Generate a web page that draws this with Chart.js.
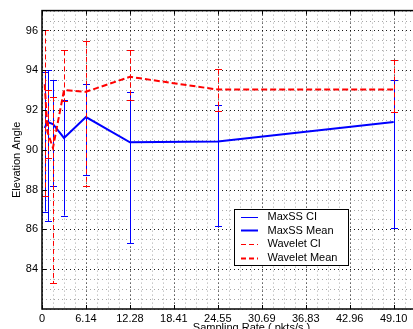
<!DOCTYPE html>
<html><head><meta charset="utf-8">
<script src="https://cdn.jsdelivr.net/npm/chart.js@4/dist/chart.umd.min.js"></script>
<style>
html,body{margin:0;padding:0;background:#fff;overflow:hidden;width:413px;height:329px;}
#wrap{position:absolute;left:0;top:0;width:470px;height:345px;}
canvas{display:block;}
</style></head><body>
<div id="wrap"><canvas id="c" width="470" height="345"></canvas></div>
<script>
// ---- data ----
const samplingRates = [0.38, 0.77, 1.53, 3.07, 6.14, 12.28, 24.55, 49.10];
const maxssMean  = [91.10, 91.40, 91.30, 90.60, 91.65, 90.38, 90.42, 91.40];
const maxssLow   = [86.90, 86.40, 88.20, 86.70, 88.75, 85.30, 86.15, 86.05];
const maxssHigh  = [93.90, 94.00, 93.50, 92.50, 93.30, 92.90, 92.26, 93.50];
const waveletMean = [93.30, 90.90, 90.10, 93.00, 92.92, 93.67, 93.03, 93.03];
const waveletLow  = [87.70, 89.60, 83.30, 92.45, 88.17, 92.53, 91.97, 91.90];
const waveletHigh = [96.00, 93.00, 92.66, 95.00, 95.48, 95.00, 94.04, 94.50];

const xTickValues = [0, 6.1375, 12.275, 18.4125, 24.55, 30.6875, 36.825, 42.9625, 49.10];
const xTickLabels = ['0', '6.14', '12.28', '18.41', '24.55', '30.69', '36.83', '42.96', '49.10'];
const yTickValues = [84, 86, 88, 90, 92, 94, 96];
const legendLabels = ['MaxSS CI', 'MaxSS Mean', 'Wavelet CI', 'Wavelet Mean'];

const FONT = '"Liberation Sans", Arial, Helvetica, sans-serif';
const BLUE = '#0000ff', RED = '#ff0000';

function drawCI(chart, ci) {
  const {ctx, chartArea: a, scales: {x, y}} = chart;
  ctx.save();
  ctx.beginPath(); ctx.rect(a.left, a.top, a.right - a.left, a.bottom - a.top); ctx.clip();
  ctx.strokeStyle = ci.color; ctx.lineWidth = 1;
  samplingRates.forEach((r, i) => {
    const px = Math.round(x.getPixelForValue(r)) + 0.5;
    const yl = y.getPixelForValue(ci.low[i]);
    const yh = y.getPixelForValue(ci.high[i]);
    ctx.setLineDash(ci.dash);
    ctx.beginPath(); ctx.moveTo(px, yh); ctx.lineTo(px, yl); ctx.stroke();
    ctx.setLineDash([]);
    [yl, yh].forEach(v => {
      const yy = Math.round(v) + 0.5;
      ctx.beginPath(); ctx.moveTo(px - 3.5, yy); ctx.lineTo(px + 3.5, yy); ctx.stroke();
    });
  });
  ctx.restore();
}

const matlabPlugin = {
  id: 'matlabAxes',
  beforeDraw(chart) {
    const {ctx, width, height} = chart;
    ctx.save(); ctx.fillStyle = '#fff'; ctx.fillRect(0, 0, width, height); ctx.restore();
  },
  beforeDatasetsDraw(chart) {
    const {ctx, chartArea: a, scales: {x, y}} = chart;
    ctx.save();
    ctx.lineWidth = 1;
    // minor grid
    ctx.strokeStyle = 'rgba(0,0,0,0.35)';
    ctx.setLineDash([1, 3]);
    for (let v = 0; v <= x.max + 1e-9; v += 6.1375 / 4) {
      const p = Math.round(x.getPixelForValue(v)) + 0.5;
      ctx.beginPath(); ctx.moveTo(p, a.top); ctx.lineTo(p, a.bottom); ctx.stroke();
    }
    for (let v = y.min; v <= y.max + 1e-9; v += 0.5) {
      const p = Math.round(y.getPixelForValue(v)) + 0.5;
      ctx.beginPath(); ctx.moveTo(a.left, p); ctx.lineTo(a.right, p); ctx.stroke();
    }
    // major grid
    ctx.strokeStyle = 'rgba(0,0,0,0.85)';
    xTickValues.forEach(v => {
      const p = Math.round(x.getPixelForValue(v)) + 0.5;
      ctx.beginPath(); ctx.moveTo(p, a.top); ctx.lineTo(p, a.bottom); ctx.stroke();
    });
    yTickValues.forEach(v => {
      const p = Math.round(y.getPixelForValue(v)) + 0.5;
      ctx.beginPath(); ctx.moveTo(a.left, p); ctx.lineTo(a.right, p); ctx.stroke();
    });
    ctx.restore();
  },
  beforeDatasetDraw(chart, args) {
    const ds = chart.data.datasets[args.index];
    if (ds.ci) drawCI(chart, ds.ci);
  },
  afterDatasetsDraw(chart) {
    const {ctx, chartArea: a, scales: {x, y}} = chart;
    ctx.save();
    ctx.setLineDash([]);
    ctx.strokeStyle = '#000';
    ctx.lineWidth = 1.5;
    ctx.strokeRect(a.left, a.top, a.right - a.left, a.bottom - a.top);
    ctx.lineWidth = 1;
    xTickValues.forEach(v => {
      const p = Math.round(x.getPixelForValue(v)) + 0.5;
      ctx.beginPath(); ctx.moveTo(p, a.bottom); ctx.lineTo(p, a.bottom - 4); ctx.stroke();
      ctx.beginPath(); ctx.moveTo(p, a.top); ctx.lineTo(p, a.top + 4); ctx.stroke();
    });
    yTickValues.forEach(v => {
      const p = Math.round(y.getPixelForValue(v)) + 0.5;
      ctx.beginPath(); ctx.moveTo(a.left, p); ctx.lineTo(a.left + 4, p); ctx.stroke();
    });
    // legend box
    const bx = 234.5, by = 209.5, bw = 114, bh = 56;
    ctx.fillStyle = '#fff';
    ctx.fillRect(bx, by, bw, bh);
    ctx.strokeStyle = '#000'; ctx.lineWidth = 1;
    ctx.strokeRect(bx, by, bw, bh);
    const styles = [
      {c: BLUE, w: 1, d: []}, {c: BLUE, w: 2, d: []},
      {c: RED, w: 1, d: [5, 3]}, {c: RED, w: 2, d: [5, 3]}
    ];
    ctx.font = '11px ' + FONT;
    ctx.textBaseline = 'middle'; ctx.textAlign = 'left';
    legendLabels.forEach((t, i) => {
      const yy = 216.5 + i * 13.7;
      const s = styles[i];
      ctx.strokeStyle = s.c; ctx.lineWidth = s.w; ctx.setLineDash(s.d);
      ctx.beginPath(); ctx.moveTo(241, Math.round(yy) + 0.5); ctx.lineTo(258, Math.round(yy) + 0.5); ctx.stroke();
      ctx.setLineDash([]);
      ctx.fillStyle = '#000';
      ctx.fillText(t, 267.5, yy + 0.5);
    });
    ctx.restore();
  }
};

const pts = ys => samplingRates.map((r, i) => ({x: r, y: ys[i]}));

new Chart(document.getElementById('c').getContext('2d'), {
  type: 'line',
  data: {
    datasets: [
      {label: 'Wavelet Mean', data: pts(waveletMean), borderColor: RED, borderWidth: 2, borderDash: [6, 3],
       pointRadius: 0, fill: false, tension: 0, order: 0,
       ci: {low: waveletLow, high: waveletHigh, color: RED, dash: [5, 3]}},
      {label: 'MaxSS Mean', data: pts(maxssMean), borderColor: BLUE, borderWidth: 2,
       pointRadius: 0, fill: false, tension: 0, order: 1,
       ci: {low: maxssLow, high: maxssHigh, color: BLUE, dash: []}}
    ]
  },
  options: {
    responsive: false, animation: false, devicePixelRatio: 1,
    layout: {padding: {left: 0, top: 10, right: 9, bottom: 0}},
    plugins: {legend: {display: false}, tooltip: {enabled: false}},
    scales: {
      x: {
        type: 'linear', min: 0, max: 58.5,
        afterBuildTicks: s => { s.ticks = xTickValues.map(v => ({value: v})); },
        afterFit: s => { s.height = 36; },
        ticks: {callback: (v, i) => xTickLabels[i], autoSkip: false, maxRotation: 0, padding: 3,
                color: '#000', font: {family: FONT, size: 11}},
        grid: {display: false, drawTicks: false},
        border: {display: false},
        title: {display: true, text: 'Sampling Rate ( pkts/s )', color: '#000',
                font: {family: FONT, size: 11}, padding: {top: 0, bottom: 10}}
      },
      y: {
        type: 'linear', min: 82, max: 97,
        afterBuildTicks: s => { s.ticks = yTickValues.map(v => ({value: v})); },
        afterFit: s => { s.width = 42; },
        ticks: {callback: v => String(v), padding: 4, color: '#000', font: {family: FONT, size: 11}},
        grid: {display: false, drawTicks: false},
        border: {display: false},
        title: {display: true, text: 'Elevation Angle', color: '#000',
                font: {family: FONT, size: 11}, padding: {top: 10, bottom: 0}}
      }
    }
  },
  plugins: [matlabPlugin]
});
</script>
</body></html>
